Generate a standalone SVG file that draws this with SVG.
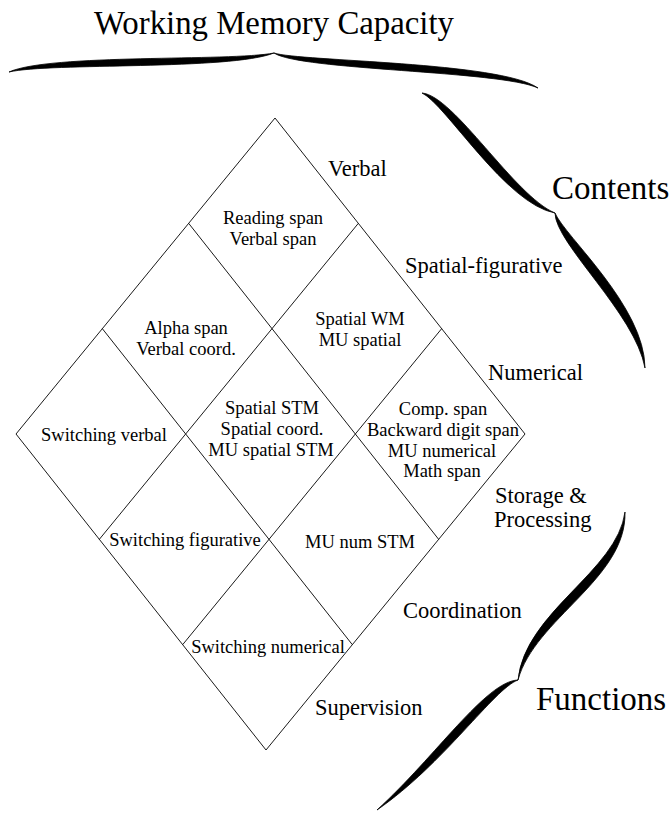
<svg xmlns="http://www.w3.org/2000/svg" width="672" height="813" viewBox="0 0 672 813">
  <style>
    .cell { font-family: "Liberation Serif", "Times New Roman", serif; font-size: 18.5px; fill: #000; text-anchor: middle; }
    .lab { font-family: "Liberation Serif", "Times New Roman", serif; font-size: 22.5px; fill: #000; }
    .big { font-family: "Liberation Serif", "Times New Roman", serif; font-size: 33px; fill: #000; }
    .grid { fill: none; stroke: #1a1a1a; stroke-width: 1; }
    .brace { fill: #000; stroke: #000; stroke-width: 0.8; stroke-linejoin: round; }
  </style>
  <rect width="672" height="813" fill="#fff"/>

  <g id="title">
    <text class="big" x="94" y="34" font-size="35" textLength="360" lengthAdjust="spacingAndGlyphs">Working Memory Capacity</text>
  </g>

  <g id="braces">
    <path class="brace" d="M 9,72 C 50,53.5 230,61.5 274,53 C 230,70.5 50,62.5 9,72 Z"/>
    <path class="brace" d="M 274,53 C 300,61.5 500,61.5 538,88 C 500,70.5 300,70.5 274,53 Z"/>
    <path class="brace" d="M 422,93 C 454.2,95.8 514.2,195.8 555,213 C 505.8,204.2 445.8,104.2 422,93 Z"/>
    <path class="brace" d="M 555,213 C 564.8,236.4 644.8,306.4 645,368 C 635.2,313.6 555.2,243.6 555,213 Z"/>
    <path class="brace" d="M 625,512 C 626.8,578.6 534.8,618.6 518,680 C 525.2,611.4 617.2,571.4 625,512 Z"/>
    <path class="brace" d="M 518,680 C 493.9,688.9 443.9,763.9 377,810 C 436.1,756.1 486.1,681.1 518,680 Z"/>
  </g>

  <g id="connectors">
    <polygon class="grid" points="275,118 525,434 266,750 16,434"/>
    <line class="grid" x1="188.67" y1="223.33" x2="438.67" y2="539.33"/>
    <line class="grid" x1="102.33" y1="328.67" x2="352.33" y2="644.67"/>
    <line class="grid" x1="358.33" y1="223.33" x2="99.33" y2="539.33"/>
    <line class="grid" x1="441.67" y1="328.67" x2="182.67" y2="644.67"/>
  </g>

  <g id="cell-verbal-storage">
    <text class="cell" x="273" y="224">Reading span</text>
    <text class="cell" x="273" y="245">Verbal span</text>
  </g>
  <g id="cell-verbal-coordination">
    <text class="cell" x="186" y="334">Alpha span</text>
    <text class="cell" x="186" y="355">Verbal coord.</text>
  </g>
  <g id="cell-spatial-storage">
    <text class="cell" x="360" y="325">Spatial WM</text>
    <text class="cell" x="360" y="346">MU spatial</text>
  </g>
  <g id="cell-verbal-supervision">
    <text class="cell" x="104" y="441">Switching verbal</text>
  </g>
  <g id="cell-spatial-coordination">
    <text class="cell" x="272" y="414">Spatial STM</text>
    <text class="cell" x="272" y="435">Spatial coord.</text>
    <text class="cell" x="271" y="456">MU spatial STM</text>
  </g>
  <g id="cell-numerical-storage">
    <text class="cell" x="443" y="415">Comp. span</text>
    <text class="cell" x="443" y="436">Backward digit span</text>
    <text class="cell" x="442" y="457">MU numerical</text>
    <text class="cell" x="442" y="477">Math span</text>
  </g>
  <g id="cell-spatial-supervision">
    <text class="cell" x="185" y="546">Switching figurative</text>
  </g>
  <g id="cell-numerical-coordination">
    <text class="cell" x="360" y="548">MU num STM</text>
  </g>
  <g id="cell-numerical-supervision">
    <text class="cell" x="268" y="653">Switching numerical</text>
  </g>

  <g id="content-labels">
    <text class="lab" x="328" y="176">Verbal</text>
    <text class="lab" x="405" y="273">Spatial-figurative</text>
    <text class="lab" x="488" y="380">Numerical</text>
    <text class="big" x="552" y="199">Contents</text>
  </g>
  <g id="function-labels">
    <text class="lab" x="495" y="503">Storage &amp;</text>
    <text class="lab" x="494" y="527">Processing</text>
    <text class="lab" x="403" y="618">Coordination</text>
    <text class="lab" x="315" y="715">Supervision</text>
    <text class="big" x="536" y="710">Functions</text>
  </g>
</svg>
